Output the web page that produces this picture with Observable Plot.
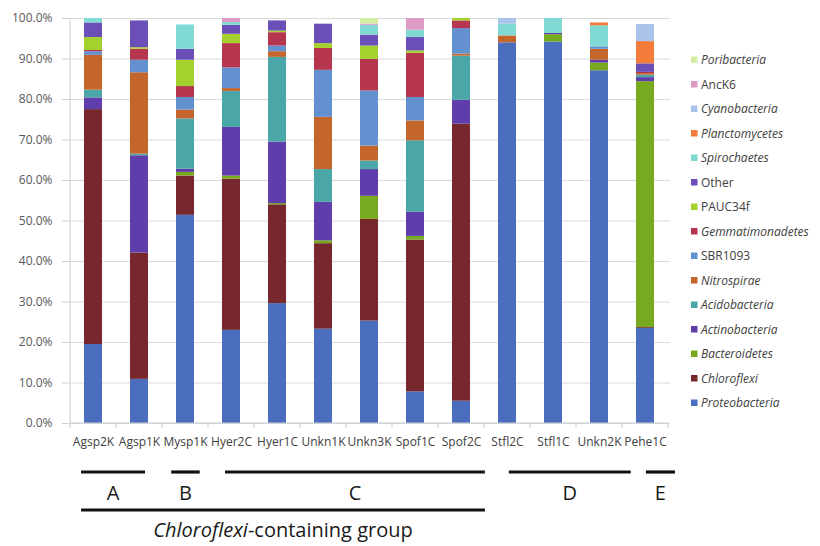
<!DOCTYPE html>
<html>
<head>
<meta charset="utf-8">
<script src="https://cdn.jsdelivr.net/npm/d3@7"></script>
<script src="https://cdn.jsdelivr.net/npm/@observablehq/plot@0.6"></script>
<style>
  html, body { margin: 0; padding: 0; background: #fff; }
  #chart { width: 820px; height: 546px; }
</style>
</head>
<body>
<div id="chart"></div>
<script>
// ---------- data ----------
const categories = ["Agsp2K","Agsp1K","Mysp1K","Hyer2C","Hyer1C","Unkn1K","Unkn3K","Spof1C","Spof2C","Stfl2C","Stfl1C","Unkn2K","Pehe1C"];

const proteobacteria   = [19.5, 10.9, 51.4, 23.0, 29.6, 23.3, 25.3,  7.8,  5.5, 94.0, 94.2, 87.1, 23.5];
const chloroflexi      = [58.0, 31.2,  9.7, 37.3, 24.4, 21.1, 25.1, 37.5, 68.4,  0,    0,    0,    0.2];
const bacteroidetes    = [ 0,    0,    0.9,  0.8,  0.3,  0.7,  5.7,  0.9,  0,    0,    1.8,  1.9, 60.7];
const actinobacteria   = [ 2.9, 24.0,  0.8, 12.0, 15.2,  9.5,  6.6,  6.0,  5.9,  0,    0.3,  0.7,  1.0];
const acidobacteria    = [ 1.9,  0.4, 12.4,  8.9, 20.9,  8.1,  2.1, 17.6, 10.9,  0,    0,    0,    0.6];
const nitrospirae      = [ 8.6, 20.1,  2.2,  0.7,  1.4, 12.9,  3.7,  4.9,  0.5,  1.7,  0,    2.7,  0.4];
const sbr1093          = [ 0.9,  3.1,  3.1,  5.1,  1.4, 11.6, 13.6,  5.8,  6.3,  0,    0,    0.6,  0];
const gemmatimonadetes = [ 0.3,  2.7,  2.7,  6.0,  3.3,  5.4,  7.8, 10.9,  1.9,  0,    0,    0,    0.3];
const pauc34f          = [ 3.2,  0.4,  6.5,  2.3,  0.4,  1.2,  3.3,  0.6,  0.6,  0,    0,    0,    0];
const other            = [ 3.6,  6.6,  2.7,  2.2,  2.5,  4.8,  2.7,  3.3,  0,    0,    0,    0,    2.1];
const spirochaetes     = [ 1.1,  0,    6.0,  0.7,  0,    0,    2.4,  1.8,  0,    2.9,  3.7,  5.2,  0];
const planctomycetes   = [ 0,    0,    0,    0,    0,    0,    0,    0,    0,    0,    0,    0.7,  5.5];
const cyanobacteria    = [ 0,    0,    0,    0,    0,    0,    0,    0,    0,    1.4,  0,    0,    4.2];
const anck6            = [ 0,    0,    0,    1.0,  0,    0,    0.3,  2.9,  0,    0,    0,    0,    0];
const poribacteria     = [ 0,    0,    0,    0,    0,    0,    1.4,  0,    0,    0,    0,    0,    0];

// stack order, bottom to top
const seriesNames = ["Proteobacteria","Chloroflexi","Bacteroidetes","Actinobacteria","Acidobacteria","Nitrospirae","SBR1093","Gemmatimonadetes","PAUC34f","Other","Spirochaetes","Planctomycetes","Cyanobacteria","AncK6","Poribacteria"];
const seriesValues = [proteobacteria, chloroflexi, bacteroidetes, actinobacteria, acidobacteria, nitrospirae, sbr1093, gemmatimonadetes, pauc34f, other, spirochaetes, planctomycetes, cyanobacteria, anck6, poribacteria];
const seriesColors = ["#4a6ebd","#76282c","#77aa1e","#5f3daa","#4ba6a8","#c4662b","#6390cf","#b7364f","#a5d12e","#6a4fb8","#80d9d2","#f47b3a","#a9c3e9","#dc9cc6","#d6eda4"];
const nonItalic = ["AncK6","Other","PAUC34f","SBR1093"];

const yTicks = [0,10,20,30,40,50,60,70,80,90,100];

const groups = [
  {label: "A", from: "Agsp2K", to: "Agsp1K"},
  {label: "B", from: "Mysp1K", to: "Mysp1K"},
  {label: "C", from: "Hyer2C", to: "Spof2C"},
  {label: "D", from: "Stfl2C", to: "Unkn2K"},
  {label: "E", from: "Pehe1C", to: "Pehe1C"}
];
const superGroup = {from: "Agsp2K", to: "Spof2C", italicPart: "Chloroflexi", rest: "-containing group"};

// ---------- build table ----------
const rows = [];
categories.forEach((c, i) => {
  seriesNames.forEach((s, j) => rows.push({sample: c, taxon: s, value: seriesValues[j][i]}));
});

const FONT = "'Open Sans', 'Noto Sans', sans-serif";
const axisColor = "#c5ced8";

const chart = Plot.plot({
  width: 820,
  height: 546,
  marginLeft: 67,
  marginRight: 150,
  marginTop: 18,
  marginBottom: 123,
  style: {fontFamily: FONT, fontSize: "12px", background: "white", color: "#404040"},
  x: {domain: categories, paddingInner: 0.61, paddingOuter: 0.305, label: null},
  y: {domain: [0, 100], label: null},
  color: {domain: seriesNames, range: seriesColors},
  marks: [
    Plot.gridY(yTicks, {stroke: "#d9d9d9", strokeOpacity: 1}),
    Plot.barY(rows, Plot.stackY({x: "sample", y: "value", fill: "taxon", z: "taxon", order: seriesNames})),
    Plot.axisY(yTicks, {tickFormat: d => d.toFixed(1) + "%", tickSize: 5, tickPadding: 10, stroke: axisColor, fill: "#595959", label: null, fontSize: 12}),
    Plot.axisX({tickSize: 0, tickPadding: 14, fill: "#404040", label: null, fontSize: 12})
  ]
});

document.getElementById("chart").appendChild(chart);

// ---------- extras drawn from the scales ----------
const svg = d3.select(chart);
const xs = chart.scale("x");
const ys = chart.scale("y");
const step = xs.step;
const bw = xs.bandwidth;
const center = c => xs.apply(c) + bw / 2;
const y0 = ys.apply(0), y100 = ys.apply(100);
const xLeft = center(categories[0]) - step / 2;
const xRight = center(categories[categories.length - 1]) + step / 2;

const extra = svg.append("g");
// axis lines
extra.append("line").attr("x1", xLeft).attr("x2", xLeft).attr("y1", y100).attr("y2", y0).attr("stroke", axisColor);
extra.append("line").attr("x1", xLeft).attr("x2", xRight).attr("y1", y0).attr("y2", y0).attr("stroke", axisColor);
// x ticks at band boundaries
d3.range(categories.length + 1).forEach(i => {
  const x = xLeft + i * step;
  extra.append("line").attr("x1", x).attr("x2", x).attr("y1", y0).attr("y2", y0 + 5).attr("stroke", axisColor);
});

// group annotation lines (extent offsets in band steps)
const groupExtents = {A: [-0.26, 0.13], B: [-0.30, 0.32], C: [-0.13, 0.52], D: [0.04, 0.69], E: [0.02, 0.65]};
const gy = 472, labelY = 500;
groups.forEach(g => {
  const [a, b] = groupExtents[g.label];
  const x1 = center(g.from) + a * step, x2 = center(g.to) + b * step;
  extra.append("line").attr("x1", x1).attr("x2", x2).attr("y1", gy).attr("y2", gy)
    .attr("stroke", "#111").attr("stroke-width", 3.2);
  extra.append("text").attr("x", (x1 + x2) / 2).attr("y", labelY).attr("text-anchor", "middle")
    .attr("font-family", FONT).attr("font-size", 20).attr("fill", "#1a1a1a").text(g.label);
});
{
  const x1 = center(superGroup.from) - 0.26 * step, x2 = center(superGroup.to) + 0.52 * step;
  extra.append("line").attr("x1", x1).attr("x2", x2).attr("y1", 510).attr("y2", 510)
    .attr("stroke", "#111").attr("stroke-width", 3.2);
  const t = extra.append("text").attr("x", (x1 + x2) / 2).attr("y", 537).attr("text-anchor", "middle")
    .attr("font-family", FONT).attr("font-size", 20).attr("fill", "#1a1a1a");
  t.append("tspan").attr("font-style", "italic").text(superGroup.italicPart);
  t.append("tspan").text(superGroup.rest);
}

// legend (top entry = top of stack)
const legendOrder = seriesNames.slice().reverse();
const lg = svg.append("g").attr("font-family", FONT).attr("font-size", 12).attr("fill", "#404040")
  .attr("text-anchor", "start");
legendOrder.forEach((name, i) => {
  const yy = 60 + i * 24.5;
  lg.append("rect").attr("x", 691).attr("y", yy - 3.5).attr("width", 6.5).attr("height", 6.5)
    .attr("fill", seriesColors[seriesNames.indexOf(name)]);
  lg.append("text").attr("x", 701).attr("y", yy).attr("dy", "0.35em").attr("text-anchor", "start")
    .attr("font-style", nonItalic.includes(name) ? "normal" : "italic").text(name);
});
</script>
</body>
</html>
